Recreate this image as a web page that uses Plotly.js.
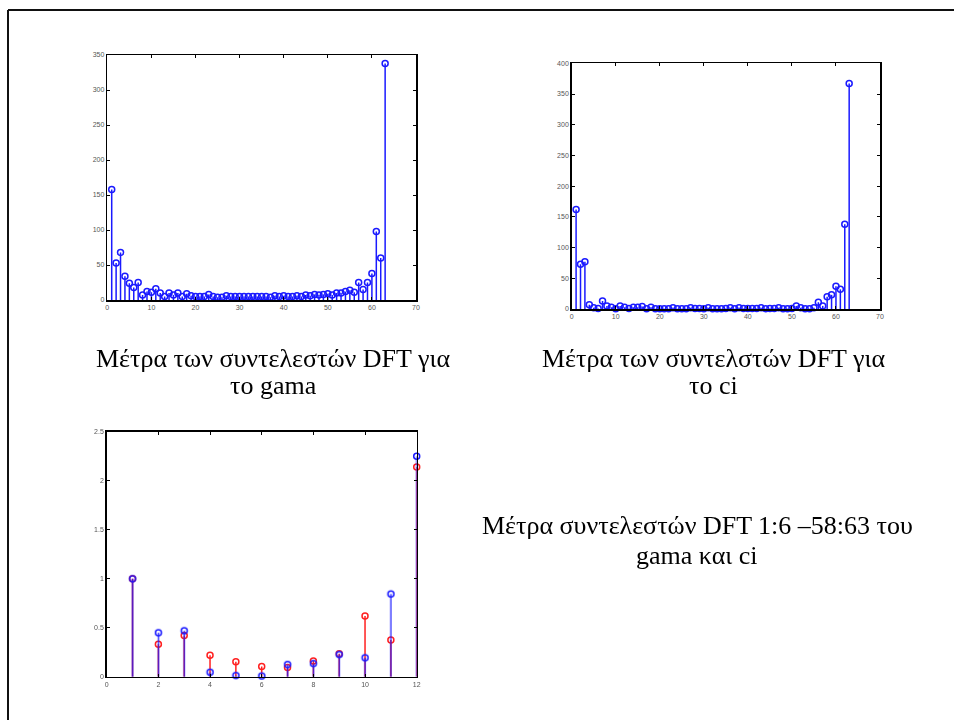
<!DOCTYPE html>
<html>
<head>
<meta charset="utf-8">
<script src="https://cdn.plot.ly/plotly-3.0.1.min.js"></script>
<style>html,body{margin:0;padding:0;background:#fff;}#chart{width:954px;height:720px;}</style>
</head>
<body>
<div id="chart"></div>
<script>
// ---- data ----
const gamaIndex = Array.from({length: 63}, (_, i) => i + 1);
const gamaMag = [158, 53, 68, 34, 24, 18, 25, 7, 12, 11, 16, 10, 5, 10, 7, 10, 5, 9, 6, 5,
  5, 5, 8, 5, 4, 4, 6, 5, 5, 5, 5, 5, 5, 5, 5, 5, 4, 6, 5, 6,
  5, 5, 6, 5, 7, 6, 8, 7, 8, 9, 7, 10, 10, 12, 14, 11, 25, 15, 25, 38,
  98, 60, 338];
const ciIndex = Array.from({length: 63}, (_, i) => i + 1);
const ciMag = [162, 73, 77, 7, 2, 1, 13, 5, 3, 0.3, 5, 3, 1, 3, 3, 4, 0.5, 3, 0.4, 0.3,
  0.4, 0.5, 2, 0.4, 0.5, 0.4, 2, 1, 0.8, 0.6, 2, 0.5, 0.4, 0.4, 0.8, 2, 0.5, 2, 1, 1,
  1, 1, 2, 0.6, 0.7, 0.8, 2, 0.5, 0.6, 1, 5, 2, 0.5, 0.4, 2, 11, 5, 20, 23, 37,
  32, 138, 367];
const subIndex = [1, 2, 3, 4, 5, 6, 7, 8, 9, 10, 11, 12];
const subGama = [1.0, 0.45, 0.47, 0.045, 0.014, 0.007, 0.126, 0.136, 0.228, 0.194, 0.844, 2.25];
const subCi = [1.0, 0.33, 0.42, 0.218, 0.153, 0.105, 0.095, 0.16, 0.235, 0.62, 0.374, 2.14];

const label1 = ['Μέτρα των συντελεστών DFT για', 'το gama'];
const label2 = ['Μέτρα των συντελστών DFT για', 'το ci'];
const label3 = ['Μέτρα συντελεστών DFT 1:6 –58:63 του', 'gama και ci'];

// ---- helpers ----
function stemLines(xs, ys) {
  const sx = [], sy = [];
  xs.forEach((x, i) => { sx.push(x, x, null); sy.push(0, ys[i], null); });
  return {sx, sy};
}
function stemTraces(xs, ys, color, xa, ya, stemOpacity) {
  const s = stemLines(xs, ys);
  return [
    {x: s.sx, y: s.sy, type: 'scatter', mode: 'lines', xaxis: xa, yaxis: ya,
     line: {color: color, width: 1.5}, opacity: stemOpacity, hoverinfo: 'skip', showlegend: false},
    {x: xs, y: ys, type: 'scatter', mode: 'markers', xaxis: xa, yaxis: ya,
     marker: {symbol: 'circle-open', size: 6, color: color, line: {width: 1.5, color: color}},
     showlegend: false, cliponaxis: false}
  ];
}

const blue = '#1a1aff';
const red = '#ff2020';

const traces = [
  ...stemTraces(gamaIndex, gamaMag, blue, 'x', 'y', 1),
  ...stemTraces(ciIndex, ciMag, blue, 'x2', 'y2', 1),
  ...stemTraces(subIndex, subCi, red, 'x3', 'y3', 1),
  ...stemTraces(subIndex, subGama, blue, 'x3', 'y3', 0.85)
];

const W = 954, H = 720;
function axisBase() {
  return {
    showgrid: false, zeroline: false, showline: true, mirror: 'ticks',
    linecolor: '#000', linewidth: 1.5, ticks: 'inside', ticklen: 3, tickwidth: 1,
    tickcolor: '#000', tickfont: {family: 'Liberation Sans, Arial, sans-serif', size: 7, color: '#555'},
    fixedrange: true
  };
}
function xd(a, b) { return [a / W, b / W]; }
function yd(top, bottom) { return [1 - bottom / H, 1 - top / H]; }

const serif = {family: 'Liberation Serif, Times New Roman, serif', size: 26, color: '#000'};
function label(text, xpx, ypx) {
  return {text: text, x: xpx / W, y: 1 - ypx / H, xref: 'paper', yref: 'paper',
          xanchor: 'center', yanchor: 'middle', showarrow: false, font: serif};
}

const layout = {
  width: W, height: H,
  margin: {l: 0, r: 0, t: 0, b: 0},
  paper_bgcolor: '#fff', plot_bgcolor: '#fff',
  showlegend: false,
  xaxis: Object.assign(axisBase(), {domain: xd(107.3, 416), range: [0, 70], dtick: 10, anchor: 'y'}),
  yaxis: Object.assign(axisBase(), {domain: yd(55, 300), range: [0, 350], dtick: 50, anchor: 'x'}),
  xaxis2: Object.assign(axisBase(), {domain: xd(571.7, 880), range: [0, 70], dtick: 10, anchor: 'y2'}),
  yaxis2: Object.assign(axisBase(), {domain: yd(63.3, 309), range: [0, 400], dtick: 50, anchor: 'x2'}),
  xaxis3: Object.assign(axisBase(), {domain: xd(106.7, 416.7), range: [0, 12], dtick: 2, anchor: 'y3'}),
  yaxis3: Object.assign(axisBase(), {domain: yd(431.7, 676.7), range: [0, 2.5], dtick: 0.5, anchor: 'x3'}),
  annotations: [
    label(label1[0], 273, 358), label(label1[1], 273, 385),
    label(label2[0], 713, 358), label(label2[1], 713, 385),
    label(label3[0], 697, 525), label(label3[1], 697, 555)
  ],
  shapes: [
    {type: 'line', xref: 'paper', yref: 'paper', x0: 8 / W, x1: 1, y0: 1 - 10 / H, y1: 1 - 10 / H, line: {color: '#111', width: 2}},
    {type: 'line', xref: 'paper', yref: 'paper', x0: 8 / W, x1: 8 / W, y0: 0, y1: 1 - 10 / H, line: {color: '#111', width: 2}}
  ]
};

Plotly.newPlot('chart', traces, layout, {displayModeBar: false, staticPlot: true});
</script>
</body>
</html>
